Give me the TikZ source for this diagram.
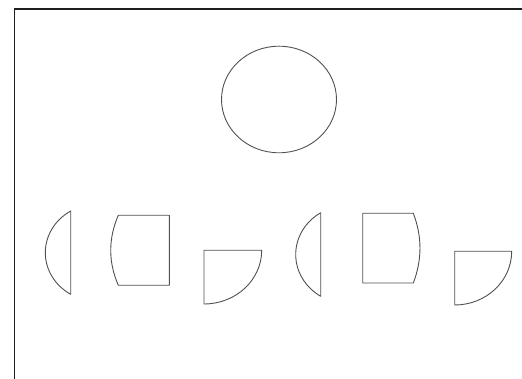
\documentclass[tikz,border=0pt]{standalone}
\usetikzlibrary{shapes.geometric}
\begin{document}
\begin{tikzpicture}[x=1pt,y=1pt,
  frame/.style={line width=1.3pt,draw={rgb,255:red,30;green,30;blue,30}},
  piece/.style={line width=0.9pt,draw={rgb,255:red,80;green,80;blue,80},line join=round}]
\useasboundingbox (0,0) rectangle (522,379);
% frame lines
\coordinate (fl) at (14.5,0);
\coordinate (fc) at (14.5,370);
\coordinate (fr) at (522,370);
\draw[frame] (fl) -- (fc) -- (fr);
% whole circle
\node[piece,draw,ellipse,minimum width=115pt,minimum height=106.6pt,inner sep=0pt] (circ) at (279,279.5) {};
% piece 1: left lens
\draw[piece] (70.7,168) arc[start angle=121,end angle=239,x radius=52.4,y radius=48.6] -- cycle;
% piece 2: block with bulging left side
\draw[piece] (169.3,163.7) -- (118.3,163.7) .. controls (108.2,140.3) and (108.2,117) .. (118.3,93.7) -- (169.3,93.7) -- cycle;
% piece 3: quarter
\draw[piece] (204,128.7) -- (261.7,128.7) arc[start angle=0,end angle=-90,x radius=57.7,y radius=53.7] -- cycle;
% piece 4: left lens
\draw[piece] (320.7,166.3) arc[start angle=122,end angle=238,x radius=53.2,y radius=49.3] -- cycle;
% piece 5: block with bulging right side
\draw[piece] (362.7,165.7) -- (413.3,165.7) .. controls (422.2,142.5) and (422.2,119.2) .. (413.3,96) -- (362.7,96) -- cycle;
% piece 6: quarter
\draw[piece] (454.7,127.7) -- (511.7,127.7) arc[start angle=0,end angle=-90,x radius=57,y radius=53.7] -- cycle;
\end{tikzpicture}
\end{document}
